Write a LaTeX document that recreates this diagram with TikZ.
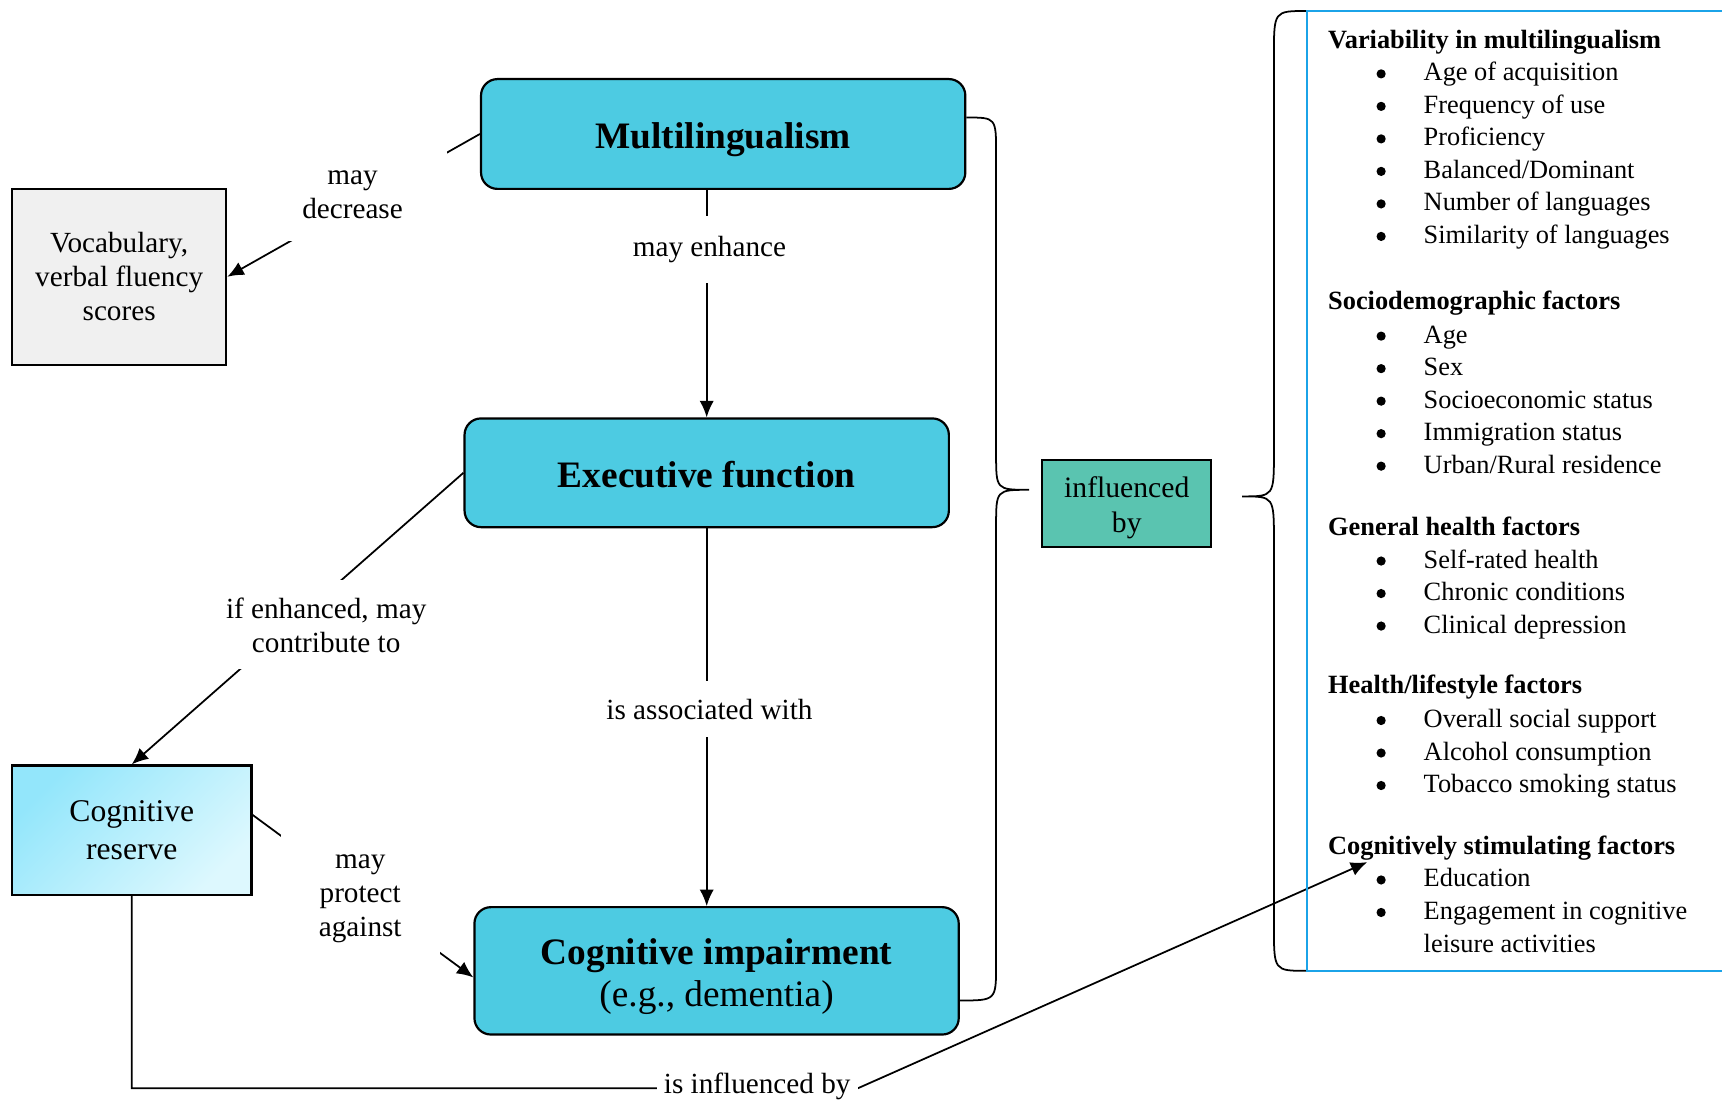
\documentclass[tikz,border=0pt]{standalone}
\usepackage{fontspec}
\setmainfont{Liberation Serif}
\usetikzlibrary{arrows.meta}
\definecolor{boxcyan}{HTML}{4DCBE2}
\definecolor{boxteal}{HTML}{5AC4B0}
\definecolor{boxgrey}{HTML}{F0F0F0}
\definecolor{crdark}{HTML}{93E6FB}
\definecolor{crlight}{HTML}{DDF8FE}
\definecolor{panelblue}{HTML}{1BA3E8}
\newcommand{\dotmark}{\tikz[baseline=0pt]\fill (2.1pt,3.2pt) circle[radius=2.1pt];}
\newcommand{\fitem}[1]{\hspace*{22pt}\makebox[21.5pt][l]{\dotmark}#1}
\newcommand{\bigstrut}{\rule[-4pt]{0pt}{21pt}}
\newcommand{\inflstrut}{\rule{0pt}{13.2pt}}

\begin{document}
\begin{tikzpicture}[x=0.5pt, y=-0.5pt]
                \tikzstyle{mainbox} = [rectangle, rounded corners=7.5pt, minimum width=220.5pt, draw=black, line width=1pt, fill=boxcyan, align=center, font=\fontsize{17}{19.5}\selectfont]
                \tikzstyle{sidebox} = [rectangle, draw=black, line width=1pt, align=center, font=\fontsize{13.3}{15.5}\selectfont]
                \tikzstyle{lbl} = [fill=white, align=center, font=\fontsize{13.3}{15.5}\selectfont]
                \tikzstyle{arrow} = [line width=0.8pt,->,>={Latex[length=7.5pt,width=6.5pt]}]
                \tikzstyle{conn} = [line width=0.8pt]
                \useasboundingbox (0,0) rectangle (1568,1002);

                \node (multi) [mainbox, minimum height=50pt] at (658.5,122) {\bigstrut\textbf{Multilingualism}};
                \node (exec) [mainbox, minimum height=49.5pt] at (643.5,430.5) {\bigstrut\textbf{Executive function}};
                \node (cogimp) [mainbox, minimum height=58pt] at (652.5,884) {\bigstrut\textbf{Cognitive impairment}\\(e.g., dementia)};
                \node (vocab) [sidebox, fill=boxgrey, minimum width=97.5pt, minimum height=80pt] at (108.5,252) {Vocabulary,\\verbal fluency\\scores};
                \node (reserve) [sidebox, top color=crdark, bottom color=crlight, shading angle=45, minimum width=109pt, minimum height=59pt, font=\fontsize{14.4}{17}\selectfont] at (120,756) {Cognitive\\reserve};
                \node (infl) [sidebox, fill=boxteal, minimum width=77pt, minimum height=39.5pt, font=\fontsize{13.5}{16}\selectfont] at (1026,458.5) {\inflstrut influenced\\by};
                \coordinate (cogtip) at (1245,785);
                \coordinate (bend) at (781,991);

                \draw [arrow] (multi.west) -- (vocab.east);
                \draw [arrow] (multi.south -| exec.north) -- (exec.north);
                \draw [arrow] (exec.south) -- (cogimp.north -| exec.south);
                \draw [arrow] (exec.west) -- (reserve.north);
                \draw [arrow] ([yshift=7pt]reserve.east) -- ([yshift=-3pt]cogimp.west);
                \draw [arrow] (reserve.south) |- (bend) -- (cogtip);

                \node (decr) [lbl, minimum width=86pt, minimum height=42pt] at (321,177) {may\\decrease};
                \node (enh) [lbl, minimum height=30.5pt] at (646,227.5) {may enhance};
                \node (assoc) [lbl, minimum height=25.5pt] at (646,646) {is associated with};
                \node (contrib) [lbl, minimum width=100pt, minimum height=40.5pt] at (297,569) {if enhanced, may\\contribute to};
                \node (protect) [lbl, minimum width=72.5pt, minimum height=65pt] at (328,818) {may\\protect\\against};
                \node (isinfl) [lbl, minimum width=91.5pt, inner ysep=2pt] at (689.5,989.5) {is influenced by};

                \draw [conn] (multi.east |- 0,107) .. controls (907,107) .. (907,140) -- (907,413) .. controls (907,446) .. (937,446) .. controls (907,446) .. (907,479) -- (907,878) .. controls (907,911) .. (cogimp.east |- 0,911);
                \draw [conn] (1190,10) .. controls (1160,10) .. (1160,50) -- (1160,412) .. controls (1160,452) .. (1131,452) .. controls (1160,452) .. (1160,492) -- (1160,844) .. controls (1160,884) .. (1190,884);
                \draw [panelblue, line width=1.1pt] (1568,10) -- (1190,10) -- (1190,884) -- (1568,884);

                \node (factors) [anchor=north west, align=left, inner sep=0pt, font=\fontsize{12}{14.8}\selectfont] at (1209,27) {\textbf{Variability in multilingualism}\\
                \fitem{Age of acquisition}\\
                \fitem{Frequency of use}\\
                \fitem{Proficiency}\\
                \fitem{Balanced/Dominant}\\
                \fitem{Number of languages}\\
                \fitem{Similarity of languages}\\[15.2pt]
                \textbf{Sociodemographic factors}\\[0.6pt]
                \fitem{Age}\\
                \fitem{Sex}\\
                \fitem{Socioeconomic status}\\
                \fitem{Immigration status}\\
                \fitem{Urban/Rural residence}\\[13.6pt]
                \textbf{General health factors}\\
                \fitem{Self-rated health}\\
                \fitem{Chronic conditions}\\
                \fitem{Clinical depression}\\[12.8pt]
                \textbf{Health/lifestyle factors}\\[0.6pt]
                \fitem{Overall social support}\\
                \fitem{Alcohol consumption}\\
                \fitem{Tobacco smoking status}\\[13.4pt]
                \textbf{Cognitively stimulating factors}\\
                \fitem{Education}\\
                \fitem{Engagement in cognitive}\\
                \hspace*{43.5pt}leisure activities};

            \end{tikzpicture}
\end{document}
